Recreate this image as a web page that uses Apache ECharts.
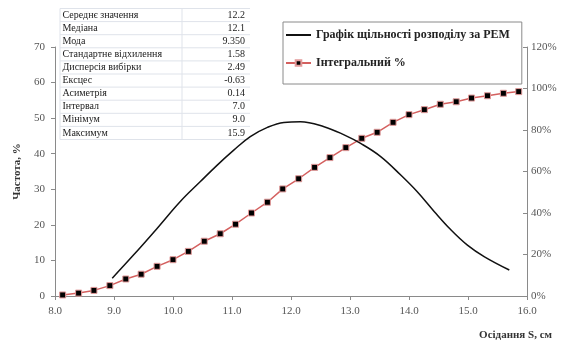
<!DOCTYPE html>
<html>
<head>
<meta charset="utf-8">
<style>html,body{margin:0;padding:0;background:#fff;}#c{width:566px;height:347px;}</style>
<script src="https://cdn.jsdelivr.net/npm/echarts@6/dist/echarts.min.js"></script>
</head>
<body>
<div id="c"></div>
<script>
var statNames = ['Середнє значення','Медіана','Мода','Стандартне відхилення','Дисперсія вибірки','Ексцес','Асиметрія','Інтервал','Мінімум','Максимум'];
var statValues = ['12.2','12.1','9.350','1.58','2.49','-0.63','0.14','7.0','9.0','15.9'];

var densityX = [8.97, 9.33, 9.73, 10.12, 10.46, 10.75, 11.03, 11.31, 11.60, 11.88, 12.16, 12.56, 12.90, 13.18, 13.52, 13.86, 14.14, 14.43, 14.71, 14.99, 15.28, 15.70];
var densityY = [5.0, 11.5, 19.0, 26.5, 32.1, 36.8, 41.0, 44.8, 47.4, 48.8, 49.0, 47.6, 45.3, 42.9, 39.2, 34.0, 29.3, 23.7, 18.6, 14.3, 11.0, 7.3];

var cumX = [8.13, 8.40, 8.66, 8.93, 9.20, 9.46, 9.73, 10.00, 10.26, 10.53, 10.80, 11.06, 11.33, 11.60, 11.86, 12.13, 12.40, 12.66, 12.93, 13.20, 13.46, 13.73, 14.00, 14.26, 14.53, 14.80, 15.06, 15.33, 15.60, 15.86];
var cumY = [0.5, 1.4, 2.7, 5.0, 8.2, 10.5, 14.3, 17.5, 21.5, 26.4, 30.0, 34.6, 40.0, 45.2, 51.6, 56.5, 62.0, 66.7, 71.5, 76.0, 78.9, 83.7, 87.4, 89.8, 92.4, 93.6, 95.4, 96.5, 97.7, 98.5];

var xTicks = {min: 8, max: 16, interval: 1};
var yLeftTicks = {min: 0, max: 70, interval: 10};
var yRightTicks = {min: 0, max: 120, interval: 20};

var seriesNames = ['Графік щільності розподілу за PEM', 'Інтегральний %'];

function zip(a, b) { return a.map(function (v, i) { return [v, b[i]]; }); }

var serif = '"Liberation Serif", "DejaVu Serif", serif';

// table graphic
var tbl = {left: 60, right: 250, top: 8.5, rowH: 13.1, divider: 182};
var g = [];
var nRows = statNames.length;
var lineColor = '#dfe3ea';
for (var i = 0; i <= nRows; i++) {
  var yy = tbl.top + i * tbl.rowH;
  g.push({type: 'line', shape: {x1: tbl.left, y1: yy, x2: tbl.right, y2: yy}, style: {stroke: lineColor, lineWidth: 1}, silent: true});
}
g.push({type: 'line', shape: {x1: tbl.left, y1: tbl.top, x2: tbl.left, y2: tbl.top + nRows * tbl.rowH}, style: {stroke: lineColor, lineWidth: 1}});
g.push({type: 'line', shape: {x1: tbl.divider, y1: tbl.top, x2: tbl.divider, y2: tbl.top + nRows * tbl.rowH}, style: {stroke: lineColor, lineWidth: 1}});
statNames.forEach(function (n, i) {
  var cy = tbl.top + (i + 0.5) * tbl.rowH;
  g.push({type: 'text', x: tbl.left + 2.5, y: cy, style: {text: n, font: '10px ' + serif, fill: '#222', verticalAlign: 'middle', align: 'left'}});
  g.push({type: 'text', x: tbl.right - 5, y: cy, style: {text: statValues[i], font: '10px ' + serif, fill: '#222', verticalAlign: 'middle', align: 'right'}});
});

var axisLabelStyle = {color: '#555', fontFamily: serif, fontSize: 11};
var axisLineStyle = {lineStyle: {color: '#8a8a8a', width: 1}};

var chart = echarts.init(document.getElementById('c'), null, {renderer: 'canvas'});
chart.setOption({
  animation: false,
  backgroundColor: '#fff',
  title: {
    text: 'Осідання S, см', right: 9, top: 325,
    textStyle: {fontFamily: serif, fontSize: 11, fontWeight: 'bold', color: '#333'}
  },
  legend: {
    orient: 'vertical', left: 283, top: 22,
    padding: [7, 12, 15, 2],
    itemGap: 16, itemWidth: 25, itemHeight: 7,
    borderColor: '#8a8a8a', borderWidth: 1,
    textStyle: {fontFamily: serif, fontSize: 12, fontWeight: 'bold', color: '#222'},
    data: [
      {name: seriesNames[0], itemStyle: {opacity: 0}},
      {name: seriesNames[1]}
    ]
  },
  grid: {left: 55, right: 39, top: 47, bottom: 51},
  xAxis: {
    type: 'value', min: xTicks.min, max: xTicks.max, interval: xTicks.interval,
    axisLine: axisLineStyle,
    axisTick: {show: true, length: 4, lineStyle: {color: '#8a8a8a'}},
    axisLabel: Object.assign({margin: 10, formatter: function (v) { return v.toFixed(1); }}, axisLabelStyle),
    splitLine: {show: false}
  },
  yAxis: [{
    type: 'value', min: yLeftTicks.min, max: yLeftTicks.max, interval: yLeftTicks.interval,
    name: 'Частота, %', nameLocation: 'middle', nameGap: 27,
    nameTextStyle: {fontFamily: serif, fontSize: 11, fontWeight: 'bold', color: '#333'},
    axisLine: Object.assign({show: true}, axisLineStyle),
    axisTick: {show: true, length: 4, lineStyle: {color: '#8a8a8a'}},
    axisLabel: Object.assign({margin: 10}, axisLabelStyle),
    splitLine: {show: false}
  }, {
    type: 'value', min: yRightTicks.min, max: yRightTicks.max, interval: yRightTicks.interval,
    position: 'right',
    axisLine: Object.assign({show: true}, axisLineStyle),
    axisTick: {show: true, inside: true, length: 4, lineStyle: {color: '#8a8a8a'}},
    axisLabel: Object.assign({margin: 4, formatter: '{value}%'}, axisLabelStyle),
    splitLine: {show: false}
  }],
  graphic: g,
  series: [{
    name: seriesNames[0], type: 'line', yAxisIndex: 0,
    data: zip(densityX, densityY), smooth: 0.4, showSymbol: false, symbol: 'none',
    lineStyle: {color: '#111', width: 1.5}, itemStyle: {color: '#111'}, z: 3
  }, {
    name: seriesNames[1], type: 'line', yAxisIndex: 1,
    data: zip(cumX, cumY), symbol: 'rect', symbolSize: 6,
    lineStyle: {color: '#d4605f', width: 1.5},
    itemStyle: {color: '#000', borderColor: '#e29a9a', borderWidth: 1}, z: 2
  }]
});
</script>
</body>
</html>
